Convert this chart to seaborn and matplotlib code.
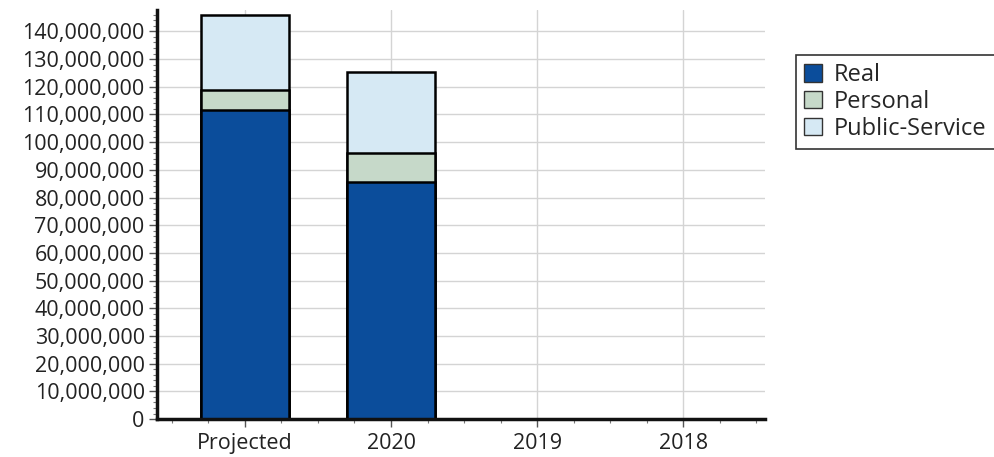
import matplotlib
matplotlib.use("Agg")
import matplotlib.pyplot as plt
from matplotlib.patches import Patch
from matplotlib.ticker import MultipleLocator, StrMethodFormatter
import numpy as np
import pandas as pd
import seaborn as sns

categories = ["Projected", "2020", "2019", "2018"]
real = [111.5e6, 85.5e6, 0, 0]
personal = [7.5e6, 10.7e6, 0, 0]
public_service = [27.0e6, 29.2e6, 0, 0]
series_names = ["Real", "Personal", "Public-Service"]
colors = ["#0b4d9b", "#c6d9c9", "#d6e9f4"]

sns.set_style("white")
plt.rcParams["font.family"] = ["Open Sans", "DejaVu Sans"]

df = pd.DataFrame({"cat": categories, "real": real, "personal": personal, "public": public_service})
df["c1"] = df["real"]
df["c2"] = df["real"] + df["personal"]
df["c3"] = df["c2"] + df["public"]

fig = plt.figure(figsize=(9.95, 4.57), dpi=100)
ax = fig.add_axes([0.158, 0.083, 0.611, 0.895])

for col, color in zip(["c3", "c2", "c1"], colors[::-1]):
    sns.barplot(data=df, x="cat", y=col, order=categories, color=color,
                edgecolor="black", linewidth=1.8, width=0.6, saturation=1, ax=ax)

ax.set_axisbelow(True)
ax.grid(True, axis="both", which="major", color="#d4d4d4", linewidth=1)
ax.xaxis.grid(True, which="major", color="#d4d4d4", linewidth=1)

ax.set_xlim(-0.6, 3.56)
ax.set_ylim(0, 147.7e6)
ax.yaxis.set_major_locator(MultipleLocator(10e6))
ax.yaxis.set_minor_locator(MultipleLocator(2e6))
ax.yaxis.set_major_formatter(StrMethodFormatter("{x:,.0f}"))
ax.xaxis.set_minor_locator(MultipleLocator(0.25))
ax.set_xlabel("")
ax.set_ylabel("")
for s in ["top", "right"]:
    ax.spines[s].set_visible(False)
for s in ["left", "bottom"]:
    ax.spines[s].set_color("#111111")
    ax.spines[s].set_linewidth(2.5)
ax.tick_params(axis="both", which="major", direction="out", length=6, width=1, color="#555555", labelsize=15.5, labelcolor="#222222")
ax.tick_params(axis="both", which="minor", direction="out", length=3, width=0.8, color="#777777")
ax.tick_params(axis="x", which="both", bottom=True)
ax.tick_params(axis="y", which="both", left=True)
ax.tick_params(axis="x", pad=4)
ax.tick_params(axis="y", pad=3)

handles = [Patch(facecolor=c, edgecolor="#333333", linewidth=1, label=n) for n, c in zip(series_names, colors)]
leg = fig.legend(handles=handles, loc="upper left", bbox_to_anchor=(0.8, 0.88),
                 frameon=True, fancybox=False, edgecolor="black", fontsize=17,
                 handlelength=0.75, handleheight=0.75, handletextpad=0.5, labelspacing=0.12,
                 borderpad=0.35, borderaxespad=0)
leg.get_frame().set_linewidth(1.2)

fig.savefig("out.png", dpi=100)
